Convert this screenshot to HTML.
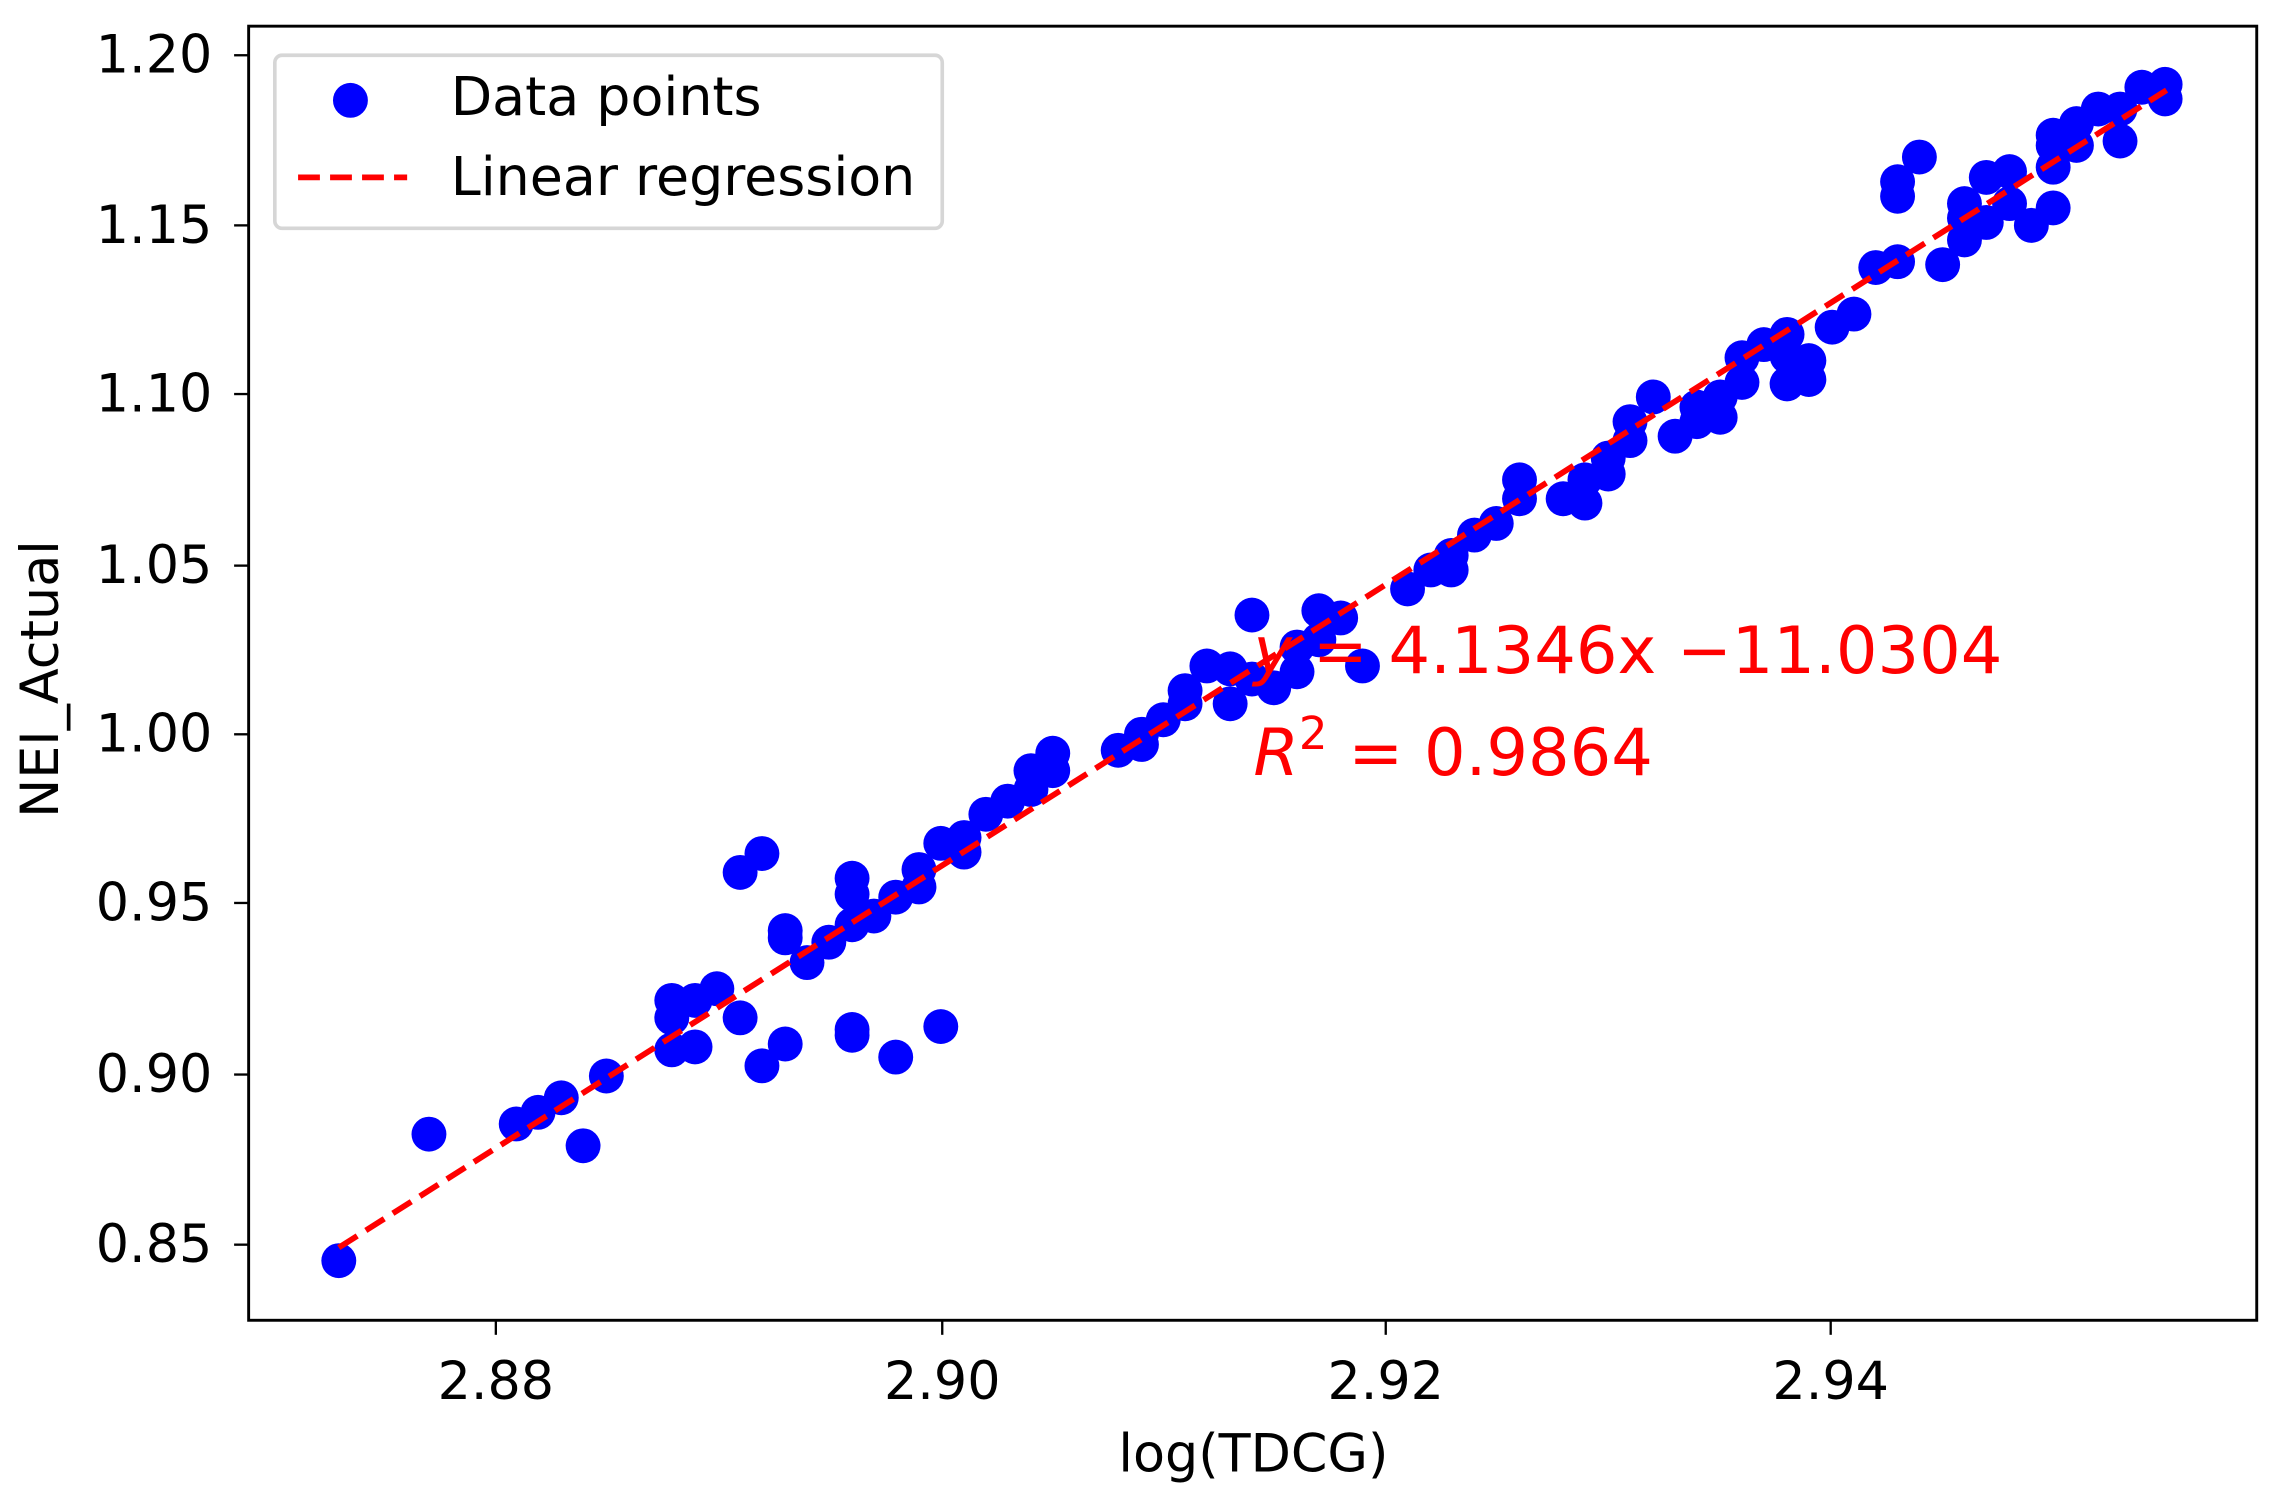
<!DOCTYPE html>
<html><head><meta charset="utf-8"><style>html,body{margin:0;padding:0;background:#fff}svg{display:block}</style></head>
<body>
<svg width="2280" height="1500" viewBox="0 0 1568 1031.6" preserveAspectRatio="none" xmlns="http://www.w3.org/2000/svg" font-family="'DejaVu Sans','Liberation Sans',sans-serif">
<rect width="1568" height="1031.6" fill="#fff"/>
<g fill="#0000ff">
<circle cx="233" cy="867" r="12"/><circle cx="295" cy="780" r="12"/><circle cx="355" cy="773" r="12"/><circle cx="370" cy="765" r="12"/><circle cx="386" cy="755" r="12"/><circle cx="401" cy="788" r="12"/><circle cx="417" cy="740" r="12"/><circle cx="462" cy="688" r="12"/><circle cx="462" cy="700" r="12"/><circle cx="462" cy="722" r="12"/><circle cx="478" cy="688" r="12"/><circle cx="478" cy="720" r="12"/><circle cx="493" cy="680" r="12"/><circle cx="509" cy="700" r="12"/><circle cx="509" cy="600" r="12"/><circle cx="524" cy="587" r="12"/><circle cx="524" cy="733" r="12"/><circle cx="540" cy="640" r="12"/><circle cx="540" cy="645" r="12"/><circle cx="540" cy="718" r="12"/><circle cx="555" cy="662" r="12"/><circle cx="570" cy="648" r="12"/><circle cx="586" cy="604" r="12"/><circle cx="586" cy="615" r="12"/><circle cx="586" cy="636" r="12"/><circle cx="586" cy="708" r="12"/><circle cx="586" cy="712" r="12"/><circle cx="601" cy="630" r="12"/><circle cx="616" cy="727" r="12"/><circle cx="616" cy="617" r="12"/><circle cx="632" cy="610" r="12"/><circle cx="632" cy="598" r="12"/><circle cx="647" cy="580" r="12"/><circle cx="647" cy="706" r="12"/><circle cx="663" cy="586" r="12"/><circle cx="663" cy="576" r="12"/><circle cx="678" cy="560" r="12"/><circle cx="693" cy="551" r="12"/><circle cx="709" cy="530" r="12"/><circle cx="709" cy="543" r="12"/><circle cx="724" cy="530" r="12"/><circle cx="724" cy="518" r="12"/><circle cx="769" cy="516" r="12"/><circle cx="785" cy="505" r="12"/><circle cx="785" cy="512" r="12"/><circle cx="800" cy="495" r="12"/><circle cx="815" cy="475" r="12"/><circle cx="815" cy="484" r="12"/><circle cx="830" cy="458" r="12"/><circle cx="846" cy="460" r="12"/><circle cx="846" cy="484" r="12"/><circle cx="861" cy="423" r="12"/><circle cx="861" cy="467" r="12"/><circle cx="876" cy="473" r="12"/><circle cx="892" cy="462" r="12"/><circle cx="892" cy="445" r="12"/><circle cx="907" cy="420" r="12"/><circle cx="907" cy="440" r="12"/><circle cx="922" cy="425" r="12"/><circle cx="937" cy="458" r="12"/><circle cx="968" cy="405" r="12"/><circle cx="984" cy="392" r="12"/><circle cx="998" cy="392" r="12"/><circle cx="998" cy="382" r="12"/><circle cx="1014" cy="368" r="12"/><circle cx="1029" cy="360" r="12"/><circle cx="1045" cy="330" r="12"/><circle cx="1045" cy="343" r="12"/><circle cx="1075" cy="343" r="12"/><circle cx="1090" cy="330" r="12"/><circle cx="1090" cy="346" r="12"/><circle cx="1106" cy="326" r="12"/><circle cx="1106" cy="315" r="12"/><circle cx="1121" cy="303" r="12"/><circle cx="1121" cy="290" r="12"/><circle cx="1137" cy="273" r="12"/><circle cx="1152" cy="300" r="12"/><circle cx="1167" cy="290" r="12"/><circle cx="1167" cy="280" r="12"/><circle cx="1183" cy="287" r="12"/><circle cx="1183" cy="273" r="12"/><circle cx="1198" cy="263" r="12"/><circle cx="1198" cy="246" r="12"/><circle cx="1213" cy="237" r="12"/><circle cx="1229" cy="230" r="12"/><circle cx="1229" cy="264" r="12"/><circle cx="1229" cy="245" r="12"/><circle cx="1244" cy="248" r="12"/><circle cx="1244" cy="261" r="12"/><circle cx="1260" cy="225" r="12"/><circle cx="1275" cy="216" r="12"/><circle cx="1290" cy="184" r="12"/><circle cx="1305" cy="180" r="12"/><circle cx="1305" cy="135" r="12"/><circle cx="1305" cy="125" r="12"/><circle cx="1320" cy="108" r="12"/><circle cx="1336" cy="182" r="12"/><circle cx="1351" cy="165" r="12"/><circle cx="1351" cy="150" r="12"/><circle cx="1351" cy="140" r="12"/><circle cx="1366" cy="153" r="12"/><circle cx="1366" cy="122" r="12"/><circle cx="1382" cy="118" r="12"/><circle cx="1382" cy="140" r="12"/><circle cx="1397" cy="155" r="12"/><circle cx="1412" cy="115" r="12"/><circle cx="1412" cy="100" r="12"/><circle cx="1412" cy="93" r="12"/><circle cx="1412" cy="143" r="12"/><circle cx="1428" cy="100" r="12"/><circle cx="1428" cy="85" r="12"/><circle cx="1443" cy="75" r="12"/><circle cx="1458" cy="97" r="12"/><circle cx="1458" cy="75" r="12"/><circle cx="1473" cy="60" r="12"/><circle cx="1489" cy="68" r="12"/><circle cx="1489" cy="58" r="12"/>
</g>
<line x1="233" y1="858" x2="1490" y2="62" stroke="#ff0000" stroke-width="4" stroke-dasharray="15,7"/>
<text x="862" y="463" font-size="45" fill="#ff0000"><tspan font-style="italic">y</tspan> = 4.1346x −11.0304</text>
<text x="862" y="533" font-size="45" fill="#ff0000"><tspan font-style="italic">R</tspan><tspan font-size="31" dy="-18">2</tspan><tspan dy="18"> = 0.9864</tspan></text>
<rect x="171" y="18" width="1381" height="890" fill="none" stroke="#000" stroke-width="2"/>
<g stroke="#000" stroke-width="1.6">
<line x1="341" y1="908" x2="341" y2="918"/><line x1="648" y1="908" x2="648" y2="918"/><line x1="953" y1="908" x2="953" y2="918"/><line x1="1259" y1="908" x2="1259" y2="918"/>
<line x1="161" y1="38" x2="171" y2="38"/><line x1="161" y1="155" x2="171" y2="155"/><line x1="161" y1="271" x2="171" y2="271"/><line x1="161" y1="389" x2="171" y2="389"/><line x1="161" y1="505" x2="171" y2="505"/><line x1="161" y1="621" x2="171" y2="621"/><line x1="161" y1="739" x2="171" y2="739"/><line x1="161" y1="856" x2="171" y2="856"/>
</g>
<g font-size="36" text-anchor="middle" fill="#000">
<text x="341" y="962">2.88</text><text x="648" y="962">2.90</text><text x="953" y="962">2.92</text><text x="1259" y="962">2.94</text>
<text x="862" y="1012">log(TDCG)</text>
</g>
<g font-size="36" text-anchor="end" fill="#000">
<text x="146" y="50">1.20</text><text x="146" y="167">1.15</text><text x="146" y="283">1.10</text><text x="146" y="401">1.05</text><text x="146" y="517">1.00</text><text x="146" y="633">0.95</text><text x="146" y="751">0.90</text><text x="146" y="868">0.85</text>
</g>
<text transform="translate(40,467) rotate(-90)" font-size="36" text-anchor="middle">NEI_Actual</text>
<rect x="189" y="38" width="459" height="119" rx="5" fill="#fff" fill-opacity="0.8" stroke="#d6d6d6" stroke-width="2.5"/>
<circle cx="241" cy="69" r="12" fill="#0000ff"/>
<line x1="205" y1="122" x2="280" y2="122" stroke="#ff0000" stroke-width="4" stroke-dasharray="15,7"/>
<text x="310" y="79" font-size="37">Data points</text>
<text x="310" y="134" font-size="37">Linear regression</text>
</svg>
</body></html>
